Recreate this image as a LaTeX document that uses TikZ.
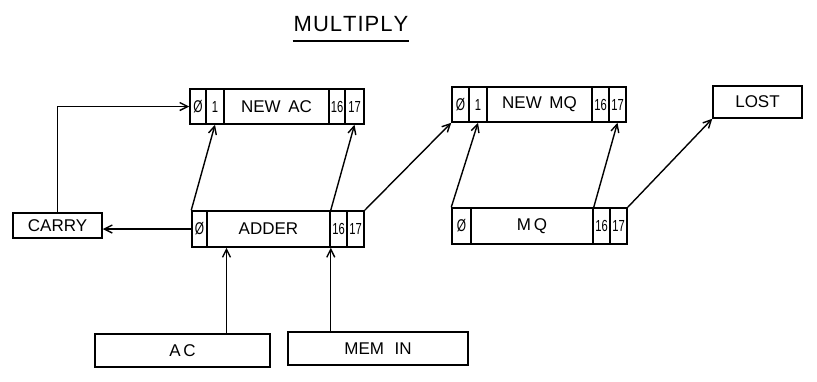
\documentclass[tikz,border=0pt]{standalone}
\usepackage{fontspec}
\setmainfont{Liberation Sans}
\usetikzlibrary{arrows.meta}
\newcommand\narrowtxt[1]{\scalebox{0.7}[1]{#1}}
\tikzset{
  cell/.style={draw, line width=1.5pt, inner sep=0pt, font=\fontsize{17}{19}\selectfont},
  num/.style={cell, font=\fontsize{16}{18}\selectfont},
  box/.style={draw, line width=1.5pt, inner sep=0pt, font=\fontsize{17}{19}\selectfont},
  arr/.style={line width=1.4pt, -{Straight Barb[length=8pt,width=8pt,line width=1.4pt]}},
  wire/.style={line width=1.5pt}
}
\begin{document}
\begin{tikzpicture}[x=1pt,y=-1pt]
\useasboundingbox (0,0) rectangle (817,381);
% title
\node[font=\fontsize{22}{26}\selectfont, inner sep=0pt] (title) at (351,24) {M\kern1ptU\kern1ptL\kern1ptT\kern1ptI\kern1ptP\kern1ptL\kern1ptY};
\draw[wire] (title.south west) ++(-1,9) coordinate (ul1) (title.south east) ++(1,9) coordinate (ul2);
\draw[wire] (ul1) -- (ul2);
% NEW AC register
\node[cell, minimum width=16pt, minimum height=35pt] (nac0) at (198,106.5) {\narrowtxt{Ø}};
\node[num, minimum width=18pt, minimum height=35pt] (nac1) at (215,106.5) {\narrowtxt{1}};
\node[cell, minimum width=105pt, minimum height=35pt] (nacm) at (276.5,106.5) {NEW\, AC};
\node[num, minimum width=16pt, minimum height=35pt] (nac16) at (337,106.5) {\narrowtxt{16}};
\node[num, minimum width=19pt, minimum height=35pt] (nac17) at (354.5,106.5) {\narrowtxt{17}};
% NEW MQ register
\node[cell, minimum width=17pt, minimum height=35pt] (nmq0) at (460.5,104.5) {\narrowtxt{Ø}};
\node[num, minimum width=18pt, minimum height=35pt] (nmq1) at (478,104.5) {\narrowtxt{1}};
\node[cell, minimum width=105pt, minimum height=35pt] (nmqm) at (539.5,104.5) {NEW\, MQ};
\node[num, minimum width=17pt, minimum height=35pt] (nmq16) at (600.5,104.5) {\narrowtxt{16}};
\node[num, minimum width=17pt, minimum height=35pt] (nmq17) at (617.5,104.5) {\narrowtxt{17}};
% ADDER register
\node[cell, minimum width=15pt, minimum height=36pt] (ad0) at (199.5,229) {\narrowtxt{Ø}};
\node[cell, minimum width=123pt, minimum height=36pt] (adm) at (268.5,229) {ADDER};
\node[num, minimum width=17pt, minimum height=36pt] (ad16) at (338.5,229) {\narrowtxt{16}};
\node[num, minimum width=17pt, minimum height=36pt] (ad17) at (355.5,229) {\narrowtxt{17}};
% MQ register
\node[cell, minimum width=19pt, minimum height=36pt] (mq0) at (461.5,226) {\narrowtxt{Ø}};
\node[cell, minimum width=122pt, minimum height=36pt] (mqm) at (532,226) {M\,Q};
\node[num, minimum width=17pt, minimum height=36pt] (mq16) at (601.5,226) {\narrowtxt{16}};
\node[num, minimum width=17pt, minimum height=36pt] (mq17) at (618.5,226) {\narrowtxt{17}};
% other boxes
\node[box, minimum width=89pt, minimum height=25pt] (carry) at (57.5,225.5) {CARRY};
\node[box, minimum width=175pt, minimum height=33pt] (ac) at (182.5,350.5) {A\,C};
\node[box, minimum width=180pt, minimum height=33pt] (memin) at (378,348.5) {MEM\,\, IN};
\node[box, minimum width=89pt, minimum height=32pt] (lost) at (757.5,102) {LOST};
% connectors
\draw[arr] (carry.north) |- (nac0.west);
\draw[arr] (ad0.west) -- (ad0.west -| carry.east);
\draw[arr] (ad0.north west) -- (nac1.south);
\draw[arr] (adm.north east) -- (nac17.south);
\draw[arr] (ad17.north east) -- (nmq0.south west);
\draw[arr] (mq0.north west) -- (nmq1.south);
\draw[arr] (mqm.north east) -- (nmq17.south);
\draw[arr] (mq17.north east) -- (lost.south west);
\draw[arr] ([xshift=44pt]ac.north) -- ([xshift=44pt]ac.north |- adm.south);
\draw[arr] (adm.south east |- memin.north) -- (adm.south east);
\end{tikzpicture}
\end{document}
